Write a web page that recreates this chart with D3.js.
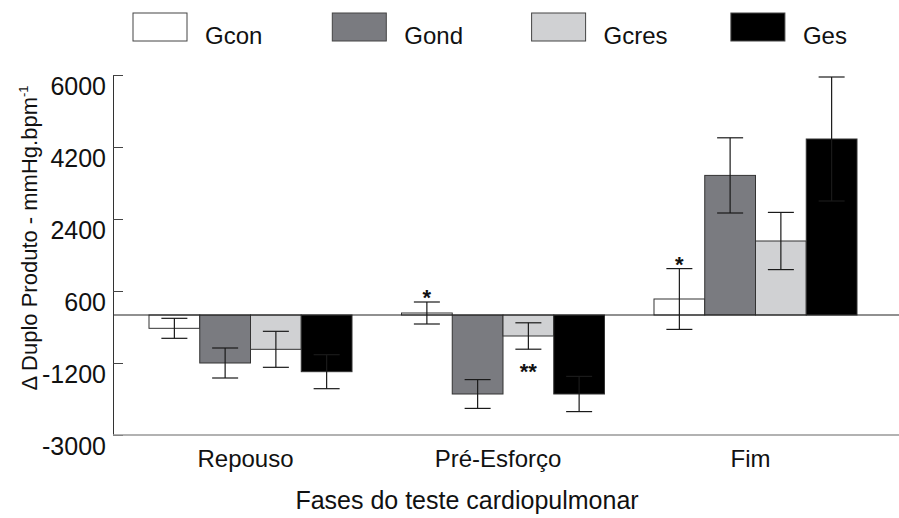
<!DOCTYPE html>
<html>
<head>
<meta charset="UTF-8">
<script src="https://d3js.org/d3.v7.min.js"></script>
<style>
  body { margin: 0; background: #fff; }
  svg text { font-family: "Liberation Sans", Arial, sans-serif; fill: #111; }
</style>
</head>
<body>
<svg width="899" height="518"></svg>
<script>
// phases on the x axis and groups in the legend
const phases = ["Repouso", "Pré-Esforço", "Fim"];
const groups = ["Gcon", "Gond", "Gcres", "Ges"];
const colors = ["#ffffff", "#7a7b80", "#d0d1d3", "#000000"];

// means per group (one value per phase)
const gcon  = [-333, 50, 400];
const gond  = [-1200, -1975, 3490];
const gcres = [-858, -525, 1850];
const ges   = [-1417, -1975, 4400];

// error (+/-) per group
const gconErr  = [250, 275, 760];
const gondErr  = [375, 360, 940];
const gcresErr = [450, 330, 715];
const gesErr   = [425, 440, 1550];

const yTicks = [-3000, -1200, 600, 2400, 4200, 6000];

// significance marks: phase, group, text, where
const marks = [
  { phase: "Pré-Esforço", group: "Gcon", text: "*", pos: "above" },
  { phase: "Fim", group: "Gcon", text: "*", pos: "above" },
  { phase: "Pré-Esforço", group: "Gcres", text: "**", pos: "below" }
];

const means = [gcon, gond, gcres, ges];
const errs = [gconErr, gondErr, gcresErr, gesErr];

const data = [];
phases.forEach((p, i) => {
  groups.forEach((g, j) => {
    data.push({ phase: p, group: g, value: means[j][i], err: errs[j][i] });
  });
});

const svg = d3.select("svg");

const x0 = d3.scaleBand().domain(phases).range([149, 857]).paddingInner(0.196).paddingOuter(0);
const x1 = d3.scaleBand().domain(groups).range([0, x0.bandwidth()]);
const y = d3.scaleLinear().domain([-3000, 6000]).range([435, 75]);
const color = d3.scaleOrdinal().domain(groups).range(colors);

// bars
svg.append("g")
  .selectAll("rect")
  .data(data)
  .join("rect")
  .attr("x", d => x0(d.phase) + x1(d.group))
  .attr("width", x1.bandwidth())
  .attr("y", d => Math.min(y(d.value), y(0)))
  .attr("height", d => Math.abs(y(d.value) - y(0)))
  .attr("fill", d => color(d.group))
  .attr("stroke", "#333")
  .attr("stroke-width", 1);

// zero line
svg.append("line")
  .attr("x1", 113).attr("x2", 899)
  .attr("y1", y(0)).attr("y2", y(0))
  .attr("stroke", "#222").attr("stroke-width", 1.2);

// error bars
const eb = svg.append("g").selectAll("g").data(data).join("g")
  .attr("transform", d => `translate(${x0(d.phase) + x1(d.group) + x1.bandwidth() / 2},0)`);
eb.append("line")
  .attr("y1", d => y(d.value + d.err)).attr("y2", d => y(d.value - d.err))
  .attr("stroke", "#1a1a1a").attr("stroke-width", 1.2);
eb.selectAll(".cap").data(d => [d.value + d.err, d.value - d.err]).join("line")
  .attr("class", "cap")
  .attr("x1", -13).attr("x2", 13)
  .attr("y1", v => y(v)).attr("y2", v => y(v))
  .attr("stroke", "#1a1a1a").attr("stroke-width", 1.2);

// asterisks
svg.append("g").selectAll("text").data(marks).join("text")
  .attr("text-anchor", "middle")
  .attr("font-size", 22)
  .attr("font-weight", "bold")
  .attr("x", m => x0(m.phase) + x1(m.group) + x1.bandwidth() / 2)
  .attr("y", m => {
    const d = data.find(e => e.phase === m.phase && e.group === m.group);
    return m.pos === "above" ? y(d.value + d.err) + 3 : y(d.value - d.err) + 30;
  })
  .text(m => m.text);

// y axis (ticks pointing inward)
const yAxis = svg.append("g")
  .attr("transform", "translate(113,0)")
  .call(d3.axisLeft(y).tickValues(yTicks).tickSize(-10).tickSizeOuter(0).tickPadding(7).tickFormat(d => String(d)));
yAxis.select(".domain").attr("stroke", "#333");
yAxis.selectAll(".tick line").attr("stroke", "#444");
yAxis.selectAll(".tick text")
  .attr("font-size", 25)
  .attr("dy", "0.78em")
  .attr("fill", "#111");

// bottom line
svg.append("line")
  .attr("x1", 113).attr("x2", 899)
  .attr("y1", 435).attr("y2", 435)
  .attr("stroke", "#999").attr("stroke-width", 1.5);

// x labels
svg.append("g").selectAll("text").data(phases).join("text")
  .attr("x", p => x0(p) + x0.bandwidth() / 2 - 5)
  .attr("y", 467)
  .attr("text-anchor", "middle")
  .attr("font-size", 24)
  .text(p => p);

svg.append("text")
  .attr("x", 467).attr("y", 509)
  .attr("text-anchor", "middle")
  .attr("font-size", 25)
  .text("Fases do teste cardiopulmonar");

// y axis title
const yt = svg.append("text")
  .attr("transform", "translate(37,238) rotate(-90)")
  .attr("text-anchor", "middle")
  .attr("font-size", 22);
yt.append("tspan").text("\u0394 Duplo Produto - mmHg.bpm");
yt.append("tspan").attr("font-size", 13).attr("dy", -9).text("-1");

// legend
const leg = svg.append("g").selectAll("g").data(groups).join("g")
  .attr("transform", (g, i) => `translate(${133 + i * 199.3},13)`);
leg.append("rect")
  .attr("width", 54).attr("height", 28)
  .attr("fill", g => color(g))
  .attr("stroke", "#444").attr("stroke-width", 1);
leg.append("text")
  .attr("x", 72).attr("y", 31)
  .attr("font-size", 24)
  .text(g => g);
</script>
</body>
</html>
